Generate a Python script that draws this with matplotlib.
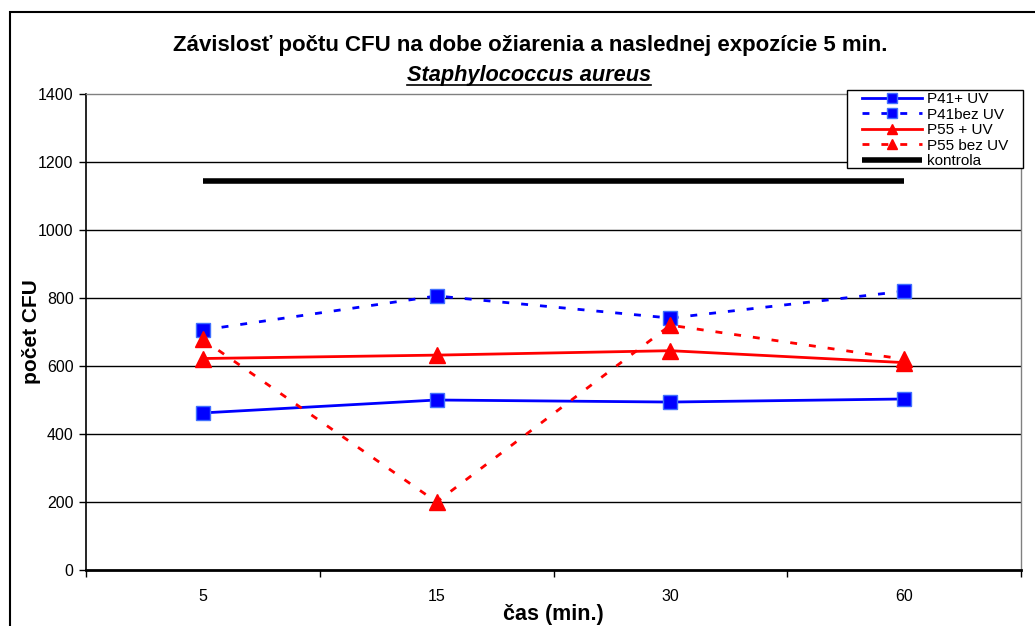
import matplotlib
matplotlib.use("Agg")
import matplotlib.pyplot as plt
from matplotlib.lines import Line2D
from matplotlib.patches import Rectangle

plt.rcParams['font.family'] = ['Liberation Sans', 'DejaVu Sans']

categories = ['5', '15', '30', '60']
p41_uv = [462, 500, 494, 503]
p41_bez = [706, 806, 741, 820]
p55_uv = [622, 632, 645, 610]
p55_bez = [678, 200, 720, 620]
kontrola = [1145, 1145, 1145, 1145]
y_ticks = [0, 200, 400, 600, 800, 1000, 1200, 1400]

W, H = 1035, 626
fig = plt.figure(figsize=(W/100, H/100), dpi=100)
ax = fig.add_axes([86/W, 1-570/H, (1021-86)/W, (570-94)/H])

x = [i + 0.5 for i in range(len(categories))]

ax.set_ylim(0, 1400)
ax.set_xlim(0, len(categories))
ax.set_yticks(y_ticks)
ax.set_yticklabels([str(t) for t in y_ticks], fontsize=11.5)
for t in y_ticks[1:-1]:
    ax.axhline(t, color='black', lw=1, zorder=1)

dash = (0, (2.5, 4.3))
ax.plot(x, kontrola, color='black', lw=4, solid_capstyle='butt', label='kontrola', zorder=3)
ax.plot(x, p41_uv, color='#0000FF', lw=2, marker='s', ms=10, mfc='#0000FF', mec='#4070FF', mew=1, label='P41+ UV', zorder=4)
ax.plot(x, p41_bez, color='#0000FF', lw=2, ls=dash, marker='s', ms=10, mfc='#0000FF', mec='#4070FF', mew=1, label='P41bez UV', zorder=4)
ax.plot(x, p55_uv, color='#FF0000', lw=2, marker='^', ms=12, mfc='#FF0000', mec='#FF0000', label='P55 + UV', zorder=5)
ax.plot(x, p55_bez, color='#FF0000', lw=2, ls=dash, marker='^', ms=12, mfc='#FF0000', mec='#FF0000', label='P55 bez UV', zorder=5)

ax.set_xticks(range(len(categories)+1))
ax.set_xticklabels([''] * (len(categories)+1))
ax.set_xticks(x, minor=True)
ax.set_xticklabels(categories, minor=True, fontsize=11.5)
ax.tick_params(axis='x', which='minor', length=0, pad=14)
ax.tick_params(axis='x', which='major', length=5, direction='out', width=1)
ax.tick_params(axis='y', length=5, direction='out', width=1, pad=4)

for s in ['top', 'right']:
    ax.spines[s].set_color('#808080')
    ax.spines[s].set_linewidth(1)
for s in ['left', 'bottom']:
    ax.spines[s].set_color('black')
ax.spines['bottom'].set_linewidth(2)
ax.spines['left'].set_linewidth(1.2)

ax.set_ylabel('počet CFU', fontsize=15, fontweight='bold', labelpad=-2)
ax.set_xlabel('čas (min.)', fontsize=15.5, fontweight='bold', labelpad=0)

# legend frame drawn separately (Excel-like padding)
frame = Rectangle((847/W, 1-168/H), (1023-847)/W, (168-90)/H, transform=fig.transFigure,
                  facecolor='white', edgecolor='black', lw=1, zorder=9, clip_on=False)
ax.add_patch(frame)

handles, labels = ax.get_legend_handles_labels()
order = [1, 2, 3, 4, 0]
leg = ax.legend([handles[i] for i in order], [labels[i] for i in order],
                loc='upper left', bbox_to_anchor=(862/W, 1-92/H),
                bbox_transform=fig.transFigure, fontsize=11, frameon=False,
                borderpad=0, labelspacing=0.1, handlelength=3.93, handletextpad=0.33,
                borderaxespad=0, markerscale=0.65)
leg.set_zorder(10)

fig.text(530/W, 1-45/H, 'Závislosť počtu CFU na dobe ožiarenia a naslednej expozície 5 min.',
         ha='center', va='center', fontsize=16, fontweight='bold')
sub = fig.text(529/W, 1-75/H, 'Staphylococcus aureus', ha='center', va='center',
               fontsize=15.7, fontweight='bold', style='italic')

fig.patches.append(Rectangle((10/W, -0.1), 1.2, 1 - 12/H + 0.1, transform=fig.transFigure,
                             fill=False, edgecolor='black', lw=1.5))

fig.canvas.draw()
bb = sub.get_window_extent(renderer=fig.canvas.get_renderer())
yline = (bb.y0 + 1) / H
fig.add_artist(Line2D([bb.x0 / W, bb.x1 / W], [yline, yline], transform=fig.transFigure,
                      color='black', lw=1.2))

fig.savefig('out.png', dpi=100)
